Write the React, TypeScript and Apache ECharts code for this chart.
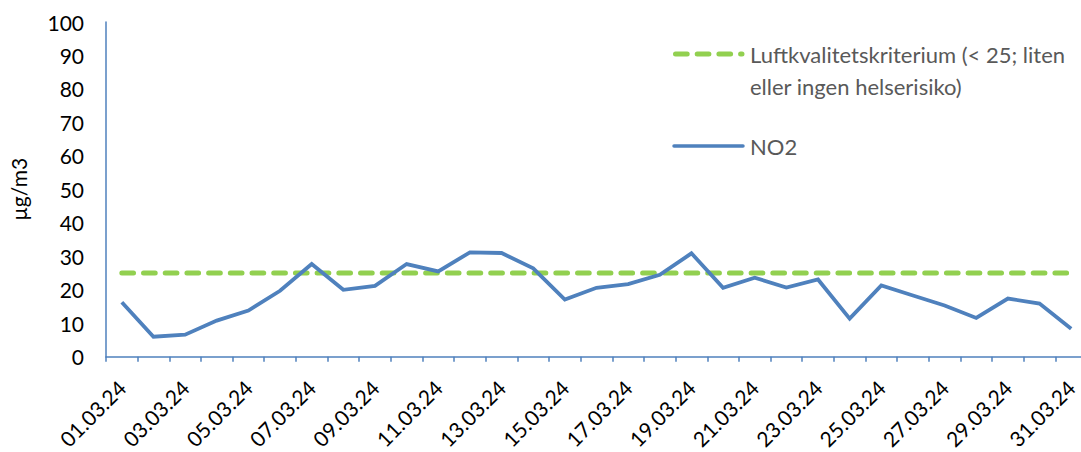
import React, { useEffect, useRef } from "react";
import * as echarts from "echarts";

const dates = [
  "01.03.24", "02.03.24", "03.03.24", "04.03.24", "05.03.24", "06.03.24", "07.03.24", "08.03.24",
  "09.03.24", "10.03.24", "11.03.24", "12.03.24", "13.03.24", "14.03.24", "15.03.24", "16.03.24",
  "17.03.24", "18.03.24", "19.03.24", "20.03.24", "21.03.24", "22.03.24", "23.03.24", "24.03.24",
  "25.03.24", "26.03.24", "27.03.24", "28.03.24", "29.03.24", "30.03.24", "31.03.24",
];
const no2 = [
  16.3, 6.0, 6.6, 10.8, 13.8, 19.7, 27.7, 20.0, 21.2, 27.7, 25.5, 31.2, 31.0, 26.4, 17.1, 20.6,
  21.7, 24.5, 30.9, 20.6, 23.6, 20.7, 23.1, 11.4, 21.3, 18.3, 15.3, 11.6, 17.4, 15.9, 8.4,
];
const criterion = dates.map(() => 25);
const criterionName = "Luftkvalitetskriterium (< 25; liten\neller ingen helserisiko)";
const no2Name = "NO2";
const yTitle = "µg/m3";

const FONT = "Lato, 'Open Sans', sans-serif";
const AXIS_BLUE = "#4F81BD";
const GREEN = "#92D050";

export default function App() {
  const ref = useRef<HTMLDivElement>(null);
  useEffect(() => {
    if (!ref.current) return;
    const chart = echarts.init(ref.current, null, { renderer: "svg" });
    chart.setOption({
      animation: false,
      textStyle: { fontFamily: FONT },
      grid: { left: 98, top: 22, bottom: 92, width: 989 },
      graphic: [
        {
          type: "line",
          shape: { x1: 675.5, y1: 54, x2: 742, y2: 54 },
          style: { stroke: GREEN, lineWidth: 5, lineDash: [11.7, 10], lineCap: "round" },
        },
        {
          type: "text",
          style: {
            x: 750,
            y: 38,
            text: criterionName,
            font: `22px ${FONT}`,
            fill: "#595959",
            lineHeight: 32,
            verticalAlign: "top",
          },
        },
        {
          type: "line",
          shape: { x1: 674, y1: 146, x2: 743, y2: 146 },
          style: { stroke: AXIS_BLUE, lineWidth: 3.5, lineCap: "round" },
        },
        {
          type: "text",
          style: {
            x: 750,
            y: 146,
            text: no2Name,
            font: `22px ${FONT}`,
            fill: "#595959",
            verticalAlign: "middle",
          },
        },
      ],
      xAxis: {
        type: "category",
        data: dates,
        boundaryGap: true,
        axisLine: { lineStyle: { color: AXIS_BLUE, width: 1.5 } },
        axisTick: { show: true, interval: 0, length: 5, lineStyle: { color: AXIS_BLUE, width: 1.5 } },
        axisLabel: {
          interval: 1,
          rotate: 45,
          fontFamily: FONT,
          fontSize: 21,
          color: "#000",
          margin: 27,
        },
      },
      yAxis: {
        type: "value",
        min: 0,
        max: 100,
        interval: 10,
        name: yTitle,
        nameLocation: "middle",
        nameGap: 77,
        nameRotate: 90,
        nameTextStyle: { fontFamily: FONT, fontSize: 21, color: "#000" },
        axisLine: { show: true, lineStyle: { color: AXIS_BLUE, width: 1.5 } },
        axisTick: { show: false },
        splitLine: { show: false },
        axisLabel: { fontFamily: FONT, fontSize: 21, color: "#000", margin: 22 },
      },
      series: [
        {
          name: criterionName,
          type: "line",
          data: criterion,
          symbol: "none",
          z: 2,
          lineStyle: { color: GREEN, width: 5, type: [11.7, 10], cap: "round" },
        },
        {
          name: no2Name,
          type: "line",
          data: no2,
          symbol: "none",
          z: 3,
          lineStyle: { color: AXIS_BLUE, width: 3.8, join: "miter" },
        },
      ],
    });
    return () => chart.dispose();
  }, []);
  return (
    <div
      style={{
        position: "absolute",
        left: 0,
        top: 0,
        width: 1081,
        height: 452,
        overflow: "hidden",
        background: "#fff",
      }}
    >
      <div ref={ref} style={{ width: 1100, height: 452 }} />
    </div>
  );
}
